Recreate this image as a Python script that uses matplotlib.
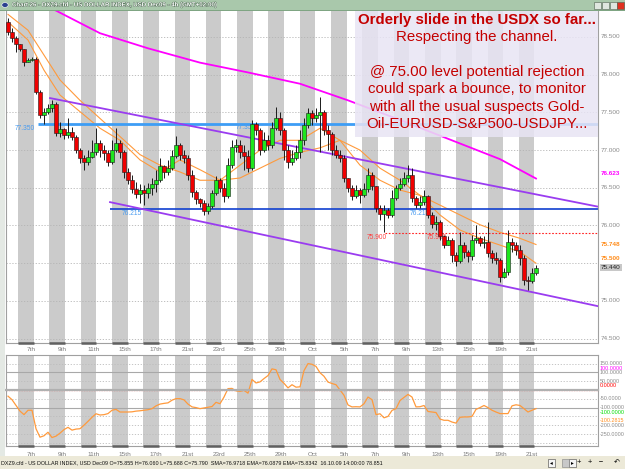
import numpy as np
import matplotlib
matplotlib.use('Agg')
import matplotlib.pyplot as plt
from matplotlib.patches import Rectangle
import matplotlib.patheffects as pe

plt.rcParams['font.family'] = ['Liberation Sans', 'DejaVu Sans']

W, H = 625, 469

# 4h candles: open of first bar, then closes / highs / lows
first_open = 78.70
closes = [78.57, 78.49, 78.41, 78.34, 78.17, 78.20, 78.21, 77.77, 77.47, 77.51,
          77.56, 77.61, 77.23, 77.28, 77.20, 77.24, 77.17, 77.00, 76.90, 76.84,
          76.91, 76.98, 77.09, 77.00, 76.96, 76.84, 77.00, 77.09, 76.98, 76.71,
          76.60, 76.48, 76.42, 76.47, 76.43, 76.50, 76.55, 76.60, 76.79, 76.71,
          76.76, 76.92, 77.07, 76.94, 76.90, 76.67, 76.45, 76.35, 76.30, 76.19,
          76.26, 76.43, 76.60, 76.50, 76.39, 76.80, 77.04, 77.07, 76.98, 76.92,
          76.76, 77.35, 77.27, 77.00, 77.13, 77.07, 77.29, 77.43, 77.27, 77.00,
          76.84, 76.90, 76.98, 77.13, 77.33, 77.49, 77.43, 77.47, 77.51, 77.27,
          77.21, 77.00, 76.94, 76.90, 76.63, 76.50, 76.39, 76.47, 76.41, 76.48,
          76.67, 76.52, 76.23, 76.15, 76.21, 76.14, 76.37, 76.50, 76.55, 76.63,
          76.67, 76.37, 76.27, 76.31, 76.39, 76.14, 76.02, 76.05, 75.86, 75.74,
          75.81, 75.61, 75.53, 75.74, 75.65, 75.60, 75.81, 75.84, 75.77, 75.78,
          75.64, 75.57, 75.54, 75.32, 75.38, 75.78, 75.74, 75.68, 75.57, 75.28,
          75.26, 75.37, 75.44]
highs = [78.75, 78.62, 78.51, 78.38, 78.22, 78.22, 78.24, 78.24, 77.80, 77.56,
         77.61, 77.67, 77.64, 77.37, 77.29, 77.43, 77.31, 77.20, 77.03, 76.94,
         77.00, 77.13, 77.29, 77.13, 77.07, 77.00, 77.13, 77.29, 77.13, 77.00,
         76.76, 76.67, 76.58, 76.55, 76.54, 76.56, 76.63, 76.74, 76.90, 76.80,
         76.87, 77.00, 77.19, 77.09, 77.00, 76.94, 76.74, 76.47, 76.37, 76.34,
         76.30, 76.47, 76.66, 76.63, 76.56, 76.90, 77.13, 77.15, 77.13, 77.07,
         77.00, 77.40, 77.37, 77.29, 77.24, 77.20, 77.37, 77.57, 77.51, 77.29,
         77.07, 77.00, 77.07, 77.27, 77.43, 77.56, 77.53, 77.56, 77.70, 77.53,
         77.33, 77.24, 77.07, 77.00, 76.94, 76.63, 76.54, 76.54, 76.50, 76.56,
         76.76, 76.71, 76.52, 76.27, 76.27, 76.23, 76.47, 76.54, 76.63, 76.71,
         76.80, 76.76, 76.39, 76.39, 76.47, 76.40, 76.18, 76.13, 76.07, 75.87,
         75.86, 75.83, 75.65, 75.91, 75.78, 75.68, 75.87, 76.00, 75.86, 75.86,
         76.05, 75.68, 75.65, 75.57, 75.44, 75.94, 75.83, 75.78, 75.74, 75.61,
         75.33, 75.44, 75.48]
lows = [78.53, 78.43, 78.30, 78.31, 78.12, 78.17, 78.18, 77.74, 77.43, 77.35,
        77.48, 77.51, 77.19, 77.17, 77.15, 77.16, 77.13, 76.96, 76.83, 76.74,
        76.80, 76.90, 76.94, 76.91, 76.87, 76.79, 76.82, 76.98, 76.90, 76.63,
        76.55, 76.43, 76.37, 76.30, 76.27, 76.37, 76.41, 76.45, 76.58, 76.63,
        76.67, 76.74, 76.90, 76.87, 76.83, 76.60, 76.38, 76.29, 76.25, 76.14,
        76.15, 76.23, 76.41, 76.44, 76.31, 76.36, 76.76, 76.98, 76.90, 76.74,
        76.71, 76.74, 77.20, 76.94, 76.98, 77.00, 77.03, 77.27, 77.20, 76.87,
        76.76, 76.80, 76.87, 76.90, 77.07, 77.29, 77.33, 77.37, 76.98, 77.20,
        77.00, 76.94, 76.90, 76.84, 76.58, 76.44, 76.34, 76.36, 76.30, 76.38,
        76.44, 76.47, 76.18, 76.07, 75.91, 76.10, 76.11, 76.34, 76.47, 76.52,
        76.58, 76.31, 76.23, 76.23, 76.27, 76.10, 75.97, 75.94, 75.81, 75.70,
        75.74, 75.52, 75.46, 75.50, 75.57, 75.52, 75.54, 75.77, 75.73, 75.70,
        75.58, 75.50, 75.49, 75.25, 75.30, 75.34, 75.65, 75.61, 75.48, 75.21,
        75.15, 75.24, 75.34]

# moving averages (bar index, price)
ma_idx = [0, 5, 9, 13, 18, 23, 28, 33, 38, 43, 48, 53, 58, 63, 68, 73, 78, 83,
          88, 93, 98, 103, 108, 113, 118, 123, 128, 132]
ema_fast = [78.70, 78.46, 78.06, 77.73, 77.51, 77.29, 77.13, 76.87, 76.71, 76.87,
            76.74, 76.60, 76.80, 77.00, 77.13, 77.13, 77.29, 77.13, 76.80, 76.60,
            76.47, 76.40, 76.14, 75.94, 75.83, 75.74, 75.65, 75.50]
ema_slow = [78.80, 78.59, 78.26, 77.93, 77.66, 77.42, 77.18, 76.94, 76.80, 76.71,
            76.60, 76.60, 76.63, 76.76, 76.89, 76.97, 77.03, 77.13, 77.00, 76.76,
            76.60, 76.40, 76.27, 76.14, 76.01, 75.91, 75.83, 75.748]
sma_idx = [12, 23, 35, 48, 60, 73, 85, 98, 110, 123, 132]
sma_vals = [78.85, 78.55, 78.35, 78.16, 78.03, 77.88, 77.66, 77.40, 77.15, 76.88, 76.623]

# channel and levels
upper_ch_idx = [10.5, 147.5]
upper_ch = [77.69, 76.25]
lower_ch_idx = [25.5, 147.5]
lower_ch = [76.31, 74.93]
level_hi = 77.35
level_mid = 76.215
level_red = 75.90

# CCI in the lower pane
cci = [-35, -55, -87, -120, -140, -115, -115, -220, -268, -260,
       -240, -270, -262, -245, -225, -212, -228, -222, -220, -200,
       -178, -155, -135, -142, -140, -134, -115, -110, -125, -125,
       -125, -124, -120, -118, -115, -112, -106, -90, -80, -76,
       -73, -58, -49, -49, -56, -80, -96, -100, -106, -102,
       -98, -94, -70, -78, -40, 8, 9, -5, -8, -2,
       -18, 60, 40, 46, 65, 82, 120, 115, 60, 38,
       12, 30, 16, 18, 110, 150, 146, 134, 98, 78,
       45, 37, 30, 0, -30, -85, -96, -95, -96, -78,
       -40, -55, -140, -135, -158, -150, -116, -106, -60, -42,
       -25, -40, -96, -95, -88, -122, -125, -128, -165, -172,
       -172, -182, -188, -155, -153, -153, -150, -110, -100, -88,
       -100, -115, -125, -134, -134, -134, -90, -84, -88, -106,
       -125, -115, -106]

date_labels = ['7th', '9th', '11th', '15th', '17th', '21st', '23rd', '25th', '29th',
               'Oct', '5th', '7th', '9th', '13th', '15th', '19th', '21st']

note_lines = ['Orderly slide in the USDX so far...', 'Respecting the channel.', '',
              '@ 75.00 level potential rejection', 'could spark a bounce, to monitor',
              'with all the usual suspects Gold-', 'Oil-EURUSD-S&P500-USDJPY...']

title = 'Chart 26 - DXZ9.cfd - US DOLLAR INDEX, USD Dec09 - 4h (GMT+02:00)'
status = ('DXZ9.cfd - US DOLLAR INDEX, USD Dec09 O=75.855 H=76.060 L=75.688 C=75.790  '
          'SMA=76.9718 EMA=76.0879 EMA=75.8342  16.10.09 14:00:00 78.851')


def rect(x0, y0, x1, y1):
    return [x0 / W, 1 - y1 / H, (x1 - x0) / W, (y1 - y0) / H]


def ix(px):
    return (px - 8) / 4.0


def price_at(py):
    return 78.5 - (py - 37) / 75.4


fig = plt.figure(figsize=(W / 100, H / 100), dpi=100, facecolor='white')

# window chrome
fig.add_artist(Rectangle((0, 1 - 10 / H), 1, 10 / H, transform=fig.transFigure,
                         facecolor='#a9c8ab', edgecolor='none'))
fig.add_artist(Rectangle((0, 1 - 11 / H), 1, 1 / H, transform=fig.transFigure,
                         facecolor='#7fa583', edgecolor='none'))
fig.add_artist(Rectangle((0, 0), 5 / W, 1 - 11 / H, transform=fig.transFigure,
                         facecolor='#e4e9e4', edgecolor='none'))
fig.add_artist(Rectangle((0, 0), 1, 13 / H, transform=fig.transFigure,
                         facecolor='#ece9d8', edgecolor='none'))
fig.text(12 / W, 1 - 5 / H, title, fontsize=4.4, weight='bold', color='white',
         va='center', ha='left',
         path_effects=[pe.withStroke(linewidth=0.6, foreground='#4d6b52')])
fig.add_artist(plt.Circle((5 / W, 1 - 5 / H), 3.2 / W, transform=fig.transFigure,
                          facecolor='#2a3f8f', edgecolor='white', lw=0.4))
for bx, bc in [(594, '#dfe6df'), (602, '#dfe6df'), (610, '#dfe6df'), (617, '#e03020')]:
    fig.add_artist(Rectangle((bx / W, 1 - 9 / H), 6.5 / W, 7 / H, transform=fig.transFigure,
                             facecolor=bc, edgecolor='#506050', lw=0.4))
fig.text(1 / W, 6.5 / H, status, fontsize=3.9, color='#101010', va='center', ha='left')
for bx in [548, 569]:
    fig.add_artist(Rectangle((bx / W, 2.5 / H), 7 / W, 8 / H, transform=fig.transFigure,
                             facecolor='#f4f4f4', edgecolor='#404040', lw=0.4))
fig.add_artist(Rectangle((562 / W, 2.5 / H), 7 / W, 8 / H, transform=fig.transFigure,
                         facecolor='#c8c8c8', edgecolor='#808080', lw=0.4))
fig.text(551.5 / W, 6.5 / H, '◂', fontsize=4, ha='center', va='center')
fig.text(572.5 / W, 6.5 / H, '▸', fontsize=4, ha='center', va='center')
fig.text(590 / W, 6.5 / H, '+   +   −', fontsize=5.5, ha='center', va='center')
fig.text(617 / W, 6.5 / H, '↶', fontsize=5, ha='center', va='center')

stripe_starts = 18 + 31.3 * np.arange(17)

# ---------------- main price pane ----------------
ax = fig.add_axes(rect(6, 11, 598, 343))
ax.set_xlim(ix(6), ix(598))
ax.set_ylim(price_at(343), price_at(11))
for s in stripe_starts:
    ax.axvspan(ix(s), ix(s + 15.6), color='#cbcbcb', lw=0, zorder=0)
for p in np.arange(74.5, 78.51, 0.5):
    ax.axhline(p, color='#b4b4b4', lw=0.6, ls=(0, (1.5, 2)), zorder=0.5)

c = np.array(closes)
o = np.r_[first_open, c[:-1]]
hi = np.maximum(np.array(highs), np.maximum(o, c))
lo = np.minimum(np.array(lows), np.minimum(o, c))
idx = np.arange(len(c))

ax.plot(sma_idx, sma_vals, color='#ff00ff', lw=1.3, zorder=2)
ax.plot(ma_idx, ema_fast, color='#ff9a3c', lw=0.8, zorder=2)
ax.plot(ma_idx, ema_slow, color='#ff9a3c', lw=0.8, zorder=2)

ax.hlines(level_hi, ix(38), ix(598), color='#3d9df5', lw=2.0, zorder=2.5)
ax.hlines(level_mid, ix(110), ix(598), color='#1040d0', lw=1.2, zorder=2.5)
ax.hlines(level_red, ix(385), ix(598), color='#ff2020', lw=0.8,
          linestyles=(0, (1.5, 1.5)), zorder=2.5)
ax.plot(upper_ch_idx, upper_ch, color='#9a3cf0', lw=1.3, zorder=2.6)
ax.plot(lower_ch_idx, lower_ch, color='#9a3cf0', lw=1.3, zorder=2.6)

lab = dict(fontsize=4.8, va='center', ha='left', zorder=2.7)
ax.text(ix(15), price_at(129), '77.350', color='#4a9cf0', **lab)
ax.text(ix(236), price_at(128), '77.350', color='#4a9cf0', **lab)
ax.text(ix(122), price_at(213), '76.215', color='#4a9cf0', **lab)
ax.text(ix(410), price_at(213), '76.215', color='#4a9cf0', **lab)
ax.text(ix(367), price_at(238), '75.900', color='#ff4040', **lab)
ax.text(ix(427), price_at(238), '75.900', color='#ff4040', **lab)

ax.vlines(idx, lo, hi, color='#1a1a1a', lw=0.7, zorder=3)
ax.bar(idx, c - o, bottom=o, width=0.8, color=np.where(c >= o, '#1ee61e', '#f00000'),
       edgecolor='#1a1a1a', lw=0.4, zorder=4)

# comment box
ax.add_patch(Rectangle((ix(355), price_at(137)), ix(598) - ix(355),
                       price_at(11) - price_at(137), facecolor='#e8e4f4',
                       alpha=0.85, edgecolor='none', zorder=6))
for k, line in enumerate(note_lines):
    fig.text(477 / W, 1 - (20 + 17.3 * k) / H, line, ha='center', va='center',
             color='#c40000', fontsize=10.8, weight='bold' if k == 0 else 'normal')

# right price scale
tr = ax.get_yaxis_transform()
for p in np.arange(74.5, 78.51, 0.5):
    if abs(p - 75.5) > 0.01:
        ax.text(1.005, p, f'{p:.3f}', transform=tr, fontsize=4.6, color='#8a8a8a',
                va='center', ha='left', clip_on=False)
rl = dict(transform=tr, fontsize=4.6, va='center', ha='left', clip_on=False)
ax.text(1.005, price_at(173.5), '76.623', color='#ff00ff', weight='bold', **rl)
ax.text(1.005, price_at(245), '75.748', color='#ff8c1a', weight='bold', **rl)
ax.text(1.005, price_at(259), '75.500', color='#ff8c1a', weight='bold', **rl)
ax.text(1.005, price_at(267.5), '75.440', color='#202020',
        bbox=dict(boxstyle='square,pad=0.15', facecolor='#c8c8c8', edgecolor='none'), **rl)

for sp in ax.spines.values():
    sp.set_color('#a0a0a0')
    sp.set_linewidth(0.8)
ax.spines['top'].set_visible(False)
ax.set_xticks([])
ax.set_yticks([])

tick_pos = [ix(31 + 31.3 * k) for k in range(len(date_labels))]


def date_strip(axis, ylab):
    axis.axhline(0, color='#b0b0b0', lw=1.6, zorder=5, clip_on=False)
    trx = axis.get_xaxis_transform()
    for s in stripe_starts:
        axis.plot([ix(s), ix(s + 15.6)], [0, 0], transform=trx, color='#606060',
                  lw=1.8, solid_capstyle='butt', clip_on=False, zorder=6)
    for t, name in zip(tick_pos, date_labels):
        axis.text(t, ylab, name, transform=trx, fontsize=4.6, color='#7a7a7a',
                  ha='center', va='center', clip_on=False)


date_strip(ax, -0.019)

# ---------------- CCI pane ----------------
ax2 = fig.add_axes(rect(6, 355, 598, 446))
ax2.set_xlim(ix(6), ix(598))
ax2.set_ylim((390 - 446) * 5.68, (390 - 355) * 5.68)
for s in stripe_starts:
    ax2.axvspan(ix(s), ix(s + 15.6), color='#cbcbcb', lw=0, zorder=0)
for v in [150, 50, -50, -150, -200, -250, -300]:
    ax2.axhline(v, color='#bcbcbc', lw=0.6, ls=(0, (1.5, 2)), zorder=0.5)
for v in [100, -100]:
    ax2.axhline(v, color='#a8a8a8', lw=0.8, zorder=0.5)
ax2.axhline(0, color='#ff3030', lw=0.9, ls=(0, (1, 1)), zorder=0.6)
ax2.plot(np.arange(len(cci)), cci, color='#ff9a3c', lw=0.9, zorder=2)

tr2 = ax2.get_yaxis_transform()
rl2 = dict(transform=tr2, fontsize=3.9, va='center', ha='left', clip_on=False)
for v in [150, 100, 50, -50, -100, -200, -250]:
    ax2.text(1.003, v, f'{v:.4f}', color='#8a8a8a', **rl2)
ax2.text(1.003, 124, '100.0000', color='#ff00ff', **rl2)
ax2.text(1.003, 27, '0.0000', color='#ff0000', **rl2)
ax2.text(1.003, -125, '-100.0000', color='#00dd00', **rl2)
ax2.text(1.003, -176, '-100.2815', color='#ff8c1a', **rl2)

for sp in ax2.spines.values():
    sp.set_color('#a0a0a0')
    sp.set_linewidth(0.8)
ax2.set_xticks([])
ax2.set_yticks([])
date_strip(ax2, -0.09)

fig.savefig('out.png', dpi=100, facecolor=fig.get_facecolor())
